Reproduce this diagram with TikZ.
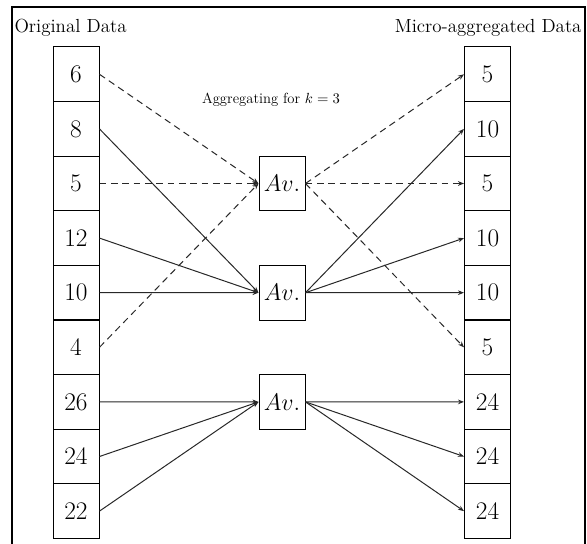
\documentclass[tikz,border=0pt]{standalone}
\usepackage{fix-cm}
\usepackage{fontspec}
\usetikzlibrary{arrows.meta}

\tikzset{every picture/.style={line width=0.75pt}}
\tikzset{
  cell/.style={draw, minimum width=34.5pt, minimum height=41pt, inner sep=0pt, font=\fontsize{19}{19}\selectfont},
  avbox/.style={draw, fill=white, minimum width=34.5pt, minimum height=41pt, inner sep=0pt, font=\fontsize{18}{18}\selectfont},
  title/.style={inner sep=0.75pt, font=\fontsize{14.2}{16}\selectfont},
  link/.style={color={rgb, 255:red, 40; green, 40; blue, 40 }, -{Stealth[length=4.5pt,width=3.5pt]}},
  dlink/.style={link, dash pattern={on 5pt off 3.5pt}},
}

\begin{document}
\begin{tikzpicture}[x=0.75pt,y=0.75pt,yscale=-1,xscale=1]
\useasboundingbox (0,0) rectangle (587,544);

%Frame
\draw [line width=1.5] (12,544) -- (12,7) -- (585,7) -- (585,544) ;

% Text Node
\node [title, anchor=west] (orig) at (13,28) {Original Data};
% Text Node
\node [title, anchor=east] (micro) at (583,28) {Micro-aggregated Data};
% Text Node
\node [inner sep=0.75pt, font=\fontsize{11}{13}\selectfont] (agg) at (271,100) {Aggregating for $k=3$};

%Columns
\foreach \v [count=\i] in {6,8,5,12,10,4,26,24,22}
  \node [cell] (l\i) at (76,{19.7+54.6*\i}) {\v};
\foreach \v [count=\i] in {5,10,5,10,10,5,24,24,24}
  \node [cell] (r\i) at (487.5,{19.7+54.6*\i}) {\v};

%Averages
\node [avbox] (a1) at (282,183.5) {$Av.$};
\node [avbox] (a2) at (282,292.7) {$Av.$};
\node [avbox] (a3) at (282,401.9) {$Av.$};

%Links
\foreach \k in {1,3,6} {
  \draw [dlink] (l\k.east) -- (a1.west) ;
  \draw [dlink] (a1.east) -- (r\k.west) ;
}
\foreach \k in {2,4,5} {
  \draw [link] (l\k.east) -- (a2.west) ;
  \draw [link] (a2.east) -- (r\k.west) ;
}
\foreach \k in {7,8,9} {
  \draw [link] (l\k.east) -- (a3.west) ;
  \draw [link] (a3.east) -- (r\k.west) ;
}

\end{tikzpicture}
\end{document}
